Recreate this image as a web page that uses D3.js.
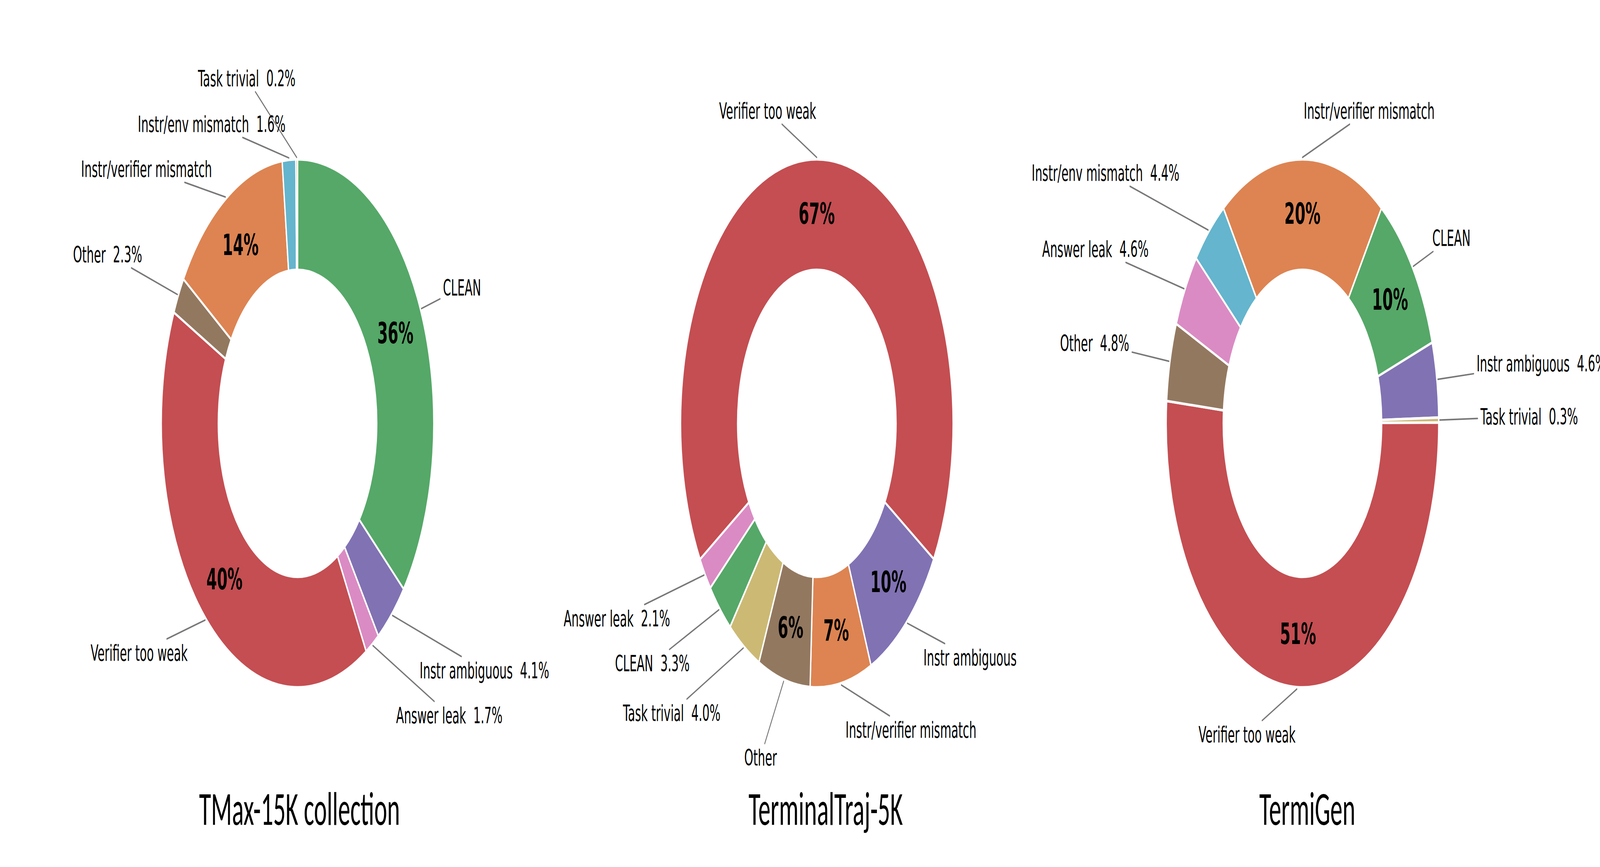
<!DOCTYPE html>
<html>
<head>
<meta charset="utf-8">
<script src="https://cdn.jsdelivr.net/npm/d3@7"></script>
<style>
  html, body { margin: 0; padding: 0; background: #fff; overflow: hidden; }
  svg { display: block; width: 100vw; height: 100vh; }
</style>
</head>
<body>
<div id="chart"></div>
<script>
var svgWidth = 7937;
var svgHeight = 2220;

// Categories and their colours (seaborn "deep")
var categories = ["CLEAN", "Instr ambiguous", "Answer leak", "Verifier too weak", "Other",
                  "Instr/verifier mismatch", "Instr/env mismatch", "Task trivial"];
var categoryColors = ["#55A868", "#8172B3", "#DA8BC3", "#C44E52", "#937860",
                      "#DD8452", "#64B5CD", "#CCB974"];

var titles = ["TMax-15K collection", "TerminalTraj-5K", "TermiGen"];

// Slice order (clockwise) and share in % per dataset
var tmaxOrder = ["CLEAN", "Instr ambiguous", "Answer leak", "Verifier too weak", "Other",
                 "Instr/verifier mismatch", "Instr/env mismatch", "Task trivial"];
var tmaxValues = [35.8, 4.1, 1.7, 40.3, 2.3, 14.0, 1.6, 0.2];

var trajOrder = ["Verifier too weak", "Instr ambiguous", "Instr/verifier mismatch", "Other",
                 "Task trivial", "CLEAN", "Answer leak"];
var trajValues = [67.2, 9.9, 7.3, 6.2, 4.0, 3.3, 2.1];

var genOrder = ["Instr/verifier mismatch", "CLEAN", "Instr ambiguous", "Task trivial",
                "Verifier too weak", "Other", "Answer leak", "Instr/env mismatch"];
var genValues = [19.7, 10.2, 4.6, 0.3, 51.4, 4.8, 4.6, 4.4];

// slices at or above this share get the bold % inside the ring
var insideThreshold = 5;

// Layout (not data): panel centres, start angles, label offsets from the centre
var cy = 1084;
var outerR = 676;
var innerR = 393;
var panels = [
  { order: tmaxOrder, values: tmaxValues, cx: 1476, start: 0, titleDx: 10,
    labelPos: {
      "CLEAN": [816, -348], "Instr ambiguous": [927, 632], "Answer leak": [753, 747],
      "Verifier too weak": [-786, 587], "Other": [-942, -433],
      "Instr/verifier mismatch": [-749, -652], "Instr/env mismatch": [-426, -767],
      "Task trivial": [-252, -884] } },
  { order: trajOrder, values: trajValues, cx: 4052, start: -121, titleDx: 44,
    labelPos: {
      "Verifier too weak": [-244, -801], "Instr ambiguous": [760, 599],
      "Instr/verifier mismatch": [467, 784], "Other": [-279, 855],
      "Task trivial": [-720, 741], "CLEAN": [-816, 614], "Answer leak": [-992, 499] } },
  { order: genOrder, values: genValues, cx: 6461, start: -35.46, titleDx: 24,
    labelPos: {
      "Instr/verifier mismatch": [331, -801], "CLEAN": [739, -475],
      "Instr ambiguous": [1185, -154], "Task trivial": [1125, -18],
      "Verifier too weak": [-275, 796], "Other": [-1031, -206],
      "Answer leak": [-1027, -447], "Instr/env mismatch": [-977, -642] } }
];

var color = d3.scaleOrdinal().domain(categories).range(categoryColors);

// The window is narrower than 7937px, so the 7937x2220 drawing is scaled to fill it
var svg = d3.select("#chart")
  .append("svg")
  .attr("viewBox", `0 0 ${svgWidth} ${svgHeight}`)
  .attr("preserveAspectRatio", "none");

svg.append("rect").attr("width", svgWidth).attr("height", svgHeight).attr("fill", "#fff");

var clip = svg.append("clipPath").attr("id", "frame");
clip.append("rect").attr("width", svgWidth).attr("height", svgHeight);
var root = svg.append("g").attr("clip-path", "url(#frame)");

var arc = d3.arc().innerRadius(innerR).outerRadius(outerR);
var pctArc = d3.arc().innerRadius(0.796 * outerR).outerRadius(0.796 * outerR);
var edgeArc = d3.arc().innerRadius(outerR + 5).outerRadius(outerR + 5);

var labelFont = 57;
var titleGroups = [];

panels.forEach(function(p, i) {
  var data = p.order.map(function(name, j) { return { name: name, value: p.values[j] }; });
  var a0 = p.start * Math.PI / 180;
  var pie = d3.pie().sort(null).value(d => d.value)
    .startAngle(a0).endAngle(a0 + 2 * Math.PI);
  var arcs = pie(data);

  var g = root.append("g").attr("transform", `translate(${p.cx}, ${cy})`);

  // wedges
  g.selectAll("path.wedge")
    .data(arcs)
    .enter()
    .append("path")
    .attr("class", "wedge")
    .attr("d", arc)
    .attr("fill", d => color(d.data.name))
    .attr("stroke", "#fff")
    .attr("stroke-width", 6.5)
    .attr("stroke-linejoin", "miter");

  // bold percentages inside the ring
  g.selectAll("text.pct")
    .data(arcs.filter(d => d.data.value >= insideThreshold))
    .enter()
    .append("text")
    .attr("class", "pct")
    .attr("transform", d => `translate(${pctArc.centroid(d)})`)
    .attr("dy", "0.36em")
    .attr("text-anchor", "middle")
    .attr("font-family", "DejaVu Sans")
    .attr("font-weight", "bold")
    .attr("font-size", "75px")
    .attr("fill", "#000")
    .text(d => Math.round(d.data.value) + "%");

  // outer labels with leader lines
  arcs.forEach(function(d) {
    var pos = p.labelPos[d.data.name];
    var txt = d.data.name + (d.data.value < insideThreshold ? "  " + d.data.value.toFixed(1) + "%" : "");
    var lbl = g.append("text")
      .attr("x", pos[0])
      .attr("y", pos[1])
      .attr("dy", "0.36em")
      .attr("text-anchor", "middle")
      .attr("font-family", "DejaVu Sans")
      .attr("font-size", labelFont + "px")
      .attr("fill", "#000")
      .style("white-space", "pre")
      .text(txt);

    var w = lbl.node().getComputedTextLength();
    var s = edgeArc.centroid(d);
    var dx = s[0] - pos[0], dy = s[1] - pos[1];
    var halfW = w / 2 + 14, halfH = 35;
    var t = Math.min(dx !== 0 ? halfW / Math.abs(dx) : Infinity,
                     dy !== 0 ? halfH / Math.abs(dy) : Infinity);
    if (t < 1) {
      g.insert("line", "text")
        .attr("x1", s[0]).attr("y1", s[1])
        .attr("x2", pos[0] + t * dx).attr("y2", pos[1] + t * dy)
        .attr("stroke", "#777")
        .attr("stroke-width", 4)
        .attr("stroke-linecap", "round");
    }
  });

  // panel title
  var title = root.append("text")
    .attr("x", p.cx + p.titleDx)
    .attr("y", 2112)
    .attr("text-anchor", "middle")
    .attr("font-family", "Carlito, Calibri, Lato, sans-serif")
    .attr("font-size", "120px")
    .attr("fill", "#000")
    .text(titles[i]);
  titleGroups.push(title);
});

// match the title size to the reference width of the first title (~996px)
var w0 = titleGroups[0].node().getComputedTextLength();
var titleSize = 120 * 996 / w0;
titleGroups.forEach(t => t.attr("font-size", titleSize + "px"));
</script>
</body>
</html>
